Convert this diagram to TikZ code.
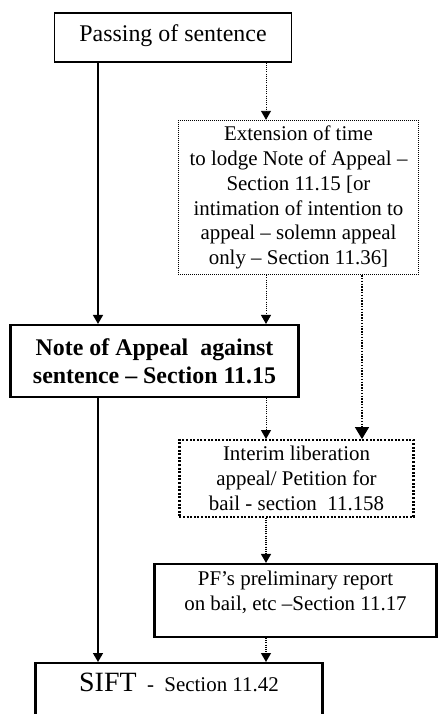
\documentclass[tikz,border=0pt]{standalone}
\usepackage{fontspec}
\setmainfont{Liberation Serif}
\usetikzlibrary{arrows.meta}
\tikzset{
  >={Triangle[length=9bp,width=10bp]},
  x=1bp, y=-1bp,
  every node/.style={inner sep=0pt, align=center, font=\fontsize{21}{25}\selectfont},
  box/.style={draw, line width=1.3bp},
  thickbox/.style={draw, line width=2.4bp},
  dotbox/.style={draw, line width=0.9bp, dash pattern=on 1bp off 1bp},
  bolddotbox/.style={draw, line width=2.2bp, dash pattern=on 2bp off 1.6bp},
  flow/.style={->, line width=1.6bp},
  dotflow/.style={->, line width=0.9bp, dash pattern=on 1bp off 1.2bp},
  bigflow/.style={->, line width=1.4bp, dash pattern=on 1.4bp off 1.4bp,
    >={Triangle[length=12bp,width=14bp]}},
}

\begin{document}
\begin{tikzpicture}
      \useasboundingbox (0,0) rectangle (438,714);
      \clip (0,0) rectangle (438,714);

      \coordinate (solcol) at (98,0);
      \coordinate (dotcol) at (266,0);
      \coordinate (rcol)   at (362,0);

      \node[box, minimum width=238, minimum height=49, text depth=8,
            font=\fontsize{24}{28}\selectfont]          (pass)    at (173,37.5) {Passing of sentence};
      \node[dotbox, minimum width=241, minimum height=155] (ext)  at (298.5,197.5)
            {Extension of time\\to lodge Note of Appeal --\\Section 11.15 [or\\intimation of intention to\\appeal -- solemn appeal\\only -- Section 11.36]};
      \node[thickbox, minimum width=289, minimum height=72,
            font=\fontsize{24}{28}\selectfont\bfseries]  (note)    at (154.5,361)
            {Note of Appeal \ against\\sentence -- Section 11.15};
      \node[bolddotbox, minimum width=235, minimum height=77] (interim) at (296.5,478.5)
            {Interim liberation\\appeal/ Petition for\\bail - section \ 11.158};
      \node[thickbox, minimum width=283, minimum height=73] (pf) at (295.5,600.5)
            {PF’s preliminary report\\on bail, etc --Section 11.17\\[-6pt]};
      \node[thickbox, anchor=north, minimum width=288, inner ysep=4, text height=24, text depth=50] (sift) at (179,662)
            {{\fontsize{28}{30}\selectfont SIFT}\ \ - \ Section 11.42};

      \draw[flow] (pass.south -| solcol) -- (note.north -| solcol);
      \draw[flow] (note.south -| solcol) -- (sift.north -| solcol);

      \draw[dotflow] (pass.south -| dotcol) -- (ext.north -| dotcol);
      \draw[dotflow] (ext.south -| dotcol) -- (note.north -| dotcol);
      \draw[dotflow] (note.south -| dotcol) -- (interim.north -| dotcol);
      \draw[bigflow] (ext.south -| rcol) -- (interim.north -| rcol);
      \draw[dotflow, line width=1.3bp] (interim.south -| dotcol) -- (pf.north -| dotcol);
      \draw[dotflow, line width=1.3bp] (pf.south -| dotcol) -- (sift.north -| dotcol);
    \end{tikzpicture}
\end{document}
